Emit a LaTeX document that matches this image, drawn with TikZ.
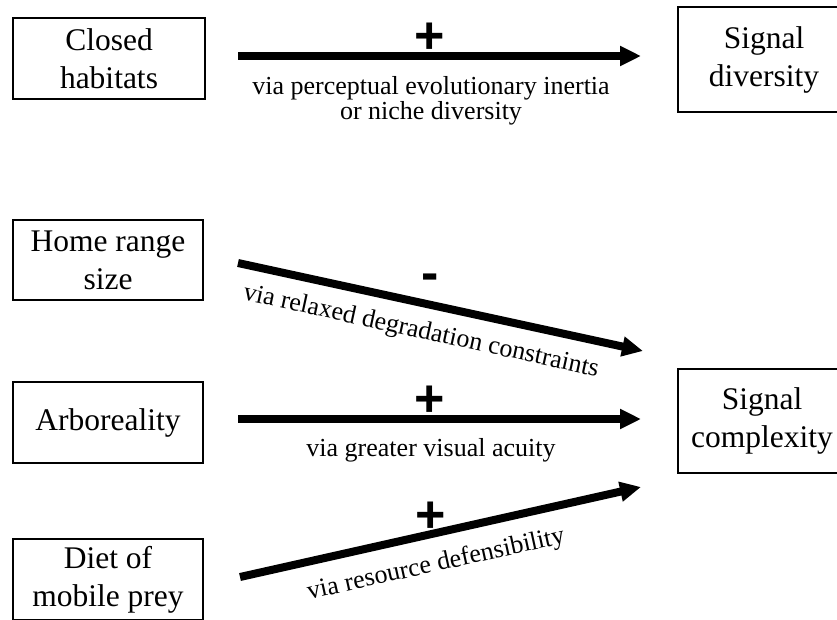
\documentclass[tikz,border=0pt]{standalone}
\usepackage{fontspec}
\setmainfont{Liberation Serif}
\newfontfamily\signfont{Liberation Sans}
\usetikzlibrary{arrows.meta}

\tikzset{
  box/.style={draw, line width=2.2pt, align=center, inner sep=0pt,
    font=\fontsize{31.5}{38}\selectfont},
  via/.style={align=center, inner sep=0pt, font=\fontsize{26}{25}\selectfont},
  sign/.style={inner sep=0pt, font=\signfont\bfseries\fontsize{52}{52}\selectfont},
  effect/.style={line width=8pt, -{Triangle[length=21pt,width=19pt]}}
}

\begin{document}
\begin{tikzpicture}[x=1pt, y=-1pt]

\useasboundingbox (0,0) rectangle (837,619);

% factors
\node [box, minimum width=192pt, minimum height=81pt] (closed) at (109,58.5) {Closed\\habitats};
\node [box, minimum width=190pt, minimum height=80pt] (home) at (108,260) {Home range\\size};
\node [box, minimum width=190pt, minimum height=81pt] (arbor) at (108,422.5) {Arboreality};
\node [box, minimum width=190pt, minimum height=81pt] (diet) at (108,579.5) {Diet of\\mobile prey};

% signals
\node [box, minimum width=172pt, minimum height=105pt] (sigdiv) at (764,59.5) {Signal\\diversity};
\node [box, minimum width=168pt, minimum height=104pt] (sigcomp) at (762,421) {Signal\\complexity};

% arrow ends
\coordinate (closed-out) at (238,56);
\coordinate (sigdiv-in) at (641,56);
\coordinate (home-out) at (238,263);
\coordinate (sigcomp-top) at (643,351);
\coordinate (arbor-out) at (238,419);
\coordinate (sigcomp-mid) at (641,419);
\coordinate (diet-out) at (240,577);
\coordinate (sigcomp-low) at (641,487);

\draw [effect] (closed-out) -- (sigdiv-in);
\draw [effect] (home-out) -- (sigcomp-top);
\draw [effect] (arbor-out) -- (sigcomp-mid);
\draw [effect] (diet-out) -- (sigcomp-low);

% signs
\node [sign] (plus1) at (430,38) {+};
\node [sign] (minus2) at (430,282) {-};
\node [sign] (plus3) at (430,401) {+};
\node [sign] (plus4) at (431,517) {+};

% mechanisms
\node [via] (via1) at (431,101) {via perceptual evolutionary inertia\\or niche diversity};
\node [via, rotate=-12.3] (via2) at (421,332) {via relaxed degradation constraints};
\node [via] (via3) at (431,450) {via greater visual acuity};
\node [via, rotate=12.4] (via4) at (436,565) {via resource defensibility};

\end{tikzpicture}
\end{document}
